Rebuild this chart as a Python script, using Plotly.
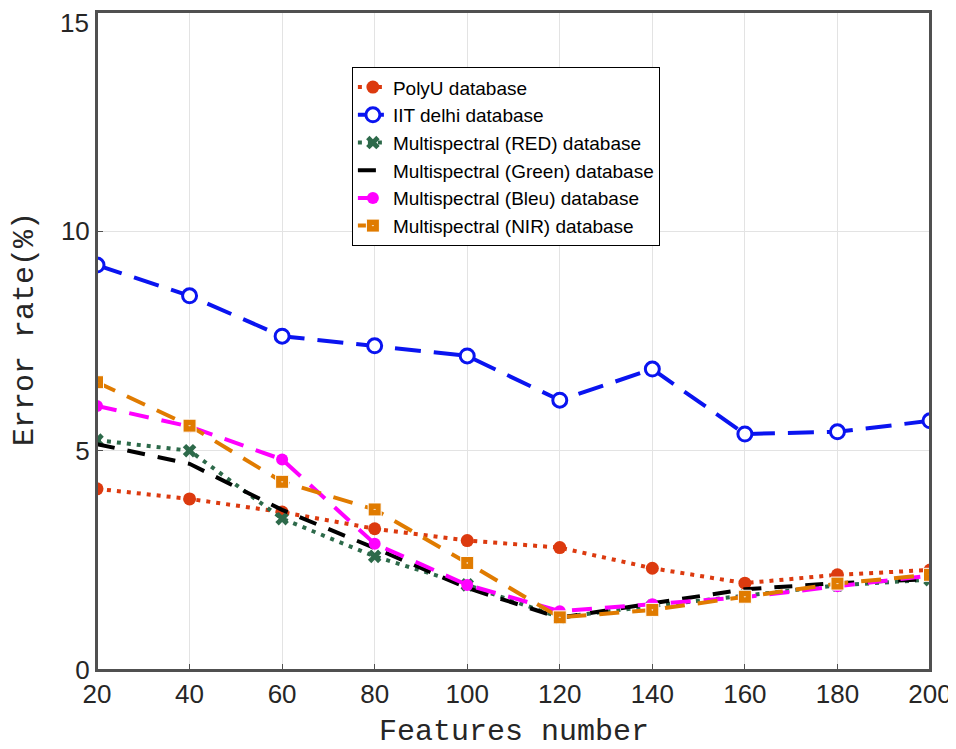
import plotly.graph_objects as go

features = [20, 40, 60, 80, 100, 120, 140, 160, 180, 200]
polyu = [4.13, 3.90, 3.60, 3.22, 2.95, 2.79, 2.32, 1.98, 2.17, 2.28]
iit = [9.23, 8.53, 7.61, 7.39, 7.16, 6.15, 6.86, 5.38, 5.43, 5.68]
ms_red = [5.24, 5.00, 3.45, 2.59, 1.94, 1.20, 1.46, 1.69, 1.93, 2.06]
ms_green = [5.15, 4.70, 3.65, 2.78, 1.87, 1.19, 1.52, 1.84, 1.98, 2.07]
ms_bleu = [6.02, 5.55, 4.80, 2.88, 1.94, 1.34, 1.50, 1.66, 1.91, 2.15]
ms_nir = [6.56, 5.57, 4.29, 3.66, 2.44, 1.20, 1.37, 1.67, 1.97, 2.17]
y_ticks = [0, 5, 10, 15]
y_ticktext = ["0", "5", "10", ""]
x_title = "Features number"
y_title = "Error rate(%)"

series = [
    dict(name="PolyU database", y=polyu, color="#DC3A0F", dash="4px,6px", width=4,
         marker=dict(symbol="circle", size=13, color="#DC3A0F")),
    dict(name="IIT delhi database", y=iit, color="#0A14F0", dash="26px,13px", width=4,
         marker=dict(symbol="circle", size=14, color="white", line=dict(color="#0A14F0", width=3))),
    dict(name="Multispectral (RED) database", y=ms_red, color="#2D6A4A", dash="4px,6px", width=4,
         marker=dict(symbol="x", size=12, color="#2D6A4A")),
    dict(name="Multispectral (Green) database", y=ms_green, color="#000000", dash="18px,13px", width=4,
         marker=None),
    dict(name="Multispectral (Bleu) database", y=ms_bleu, color="#FF00FF", dash="20px,13px", width=4,
         marker=dict(symbol="circle", size=12, color="#FF00FF")),
    dict(name="Multispectral (NIR) database", y=ms_nir, color="#E07B00", dash="20px,13px", width=4,
         marker=dict(symbol="square-dot", size=13, color="#E07B00", line=dict(color="white", width=1))),
]

fig = go.Figure()
for i, s in enumerate(series):
    kw = dict(x=features, y=s["y"], name=s["name"], legendgroup=f"g{i}",
              line=dict(color=s["color"], dash=s["dash"], width=s["width"]))
    if s["marker"] is None:
        kw["mode"] = "lines"
    else:
        kw["mode"] = "lines+markers"
        kw["marker"] = s["marker"]
    fig.add_trace(go.Scatter(**kw))

tick_font = dict(family="Liberation Sans, Arial", size=26, color="#262626")
title_font = dict(family="Liberation Mono, Courier New", size=30, color="#262626")

axis_common = dict(
    showline=True, linecolor="#505050", linewidth=2, mirror=True,
    showgrid=True, gridcolor="#E3E3E3", gridwidth=1,
    ticks="inside", ticklen=6, tickcolor="#505050",
    tickfont=tick_font,
    zeroline=False, automargin=False, ticklabeloverflow="allow",
)

fig.update_layout(
    width=948, height=741,
    margin=dict(l=89, r=26, t=4, b=79),
    plot_bgcolor="white", paper_bgcolor="white",
    xaxis=dict(range=[20, 200], tickvals=features, **axis_common),
    yaxis=dict(range=[0, 15], tickvals=y_ticks, ticktext=y_ticktext, **axis_common),
    legend=dict(x=0.306, y=0.916, xanchor="left", yanchor="top",
                bordercolor="#000000", borderwidth=1, bgcolor="white",
                font=dict(family="Liberation Sans, Arial", size=19, color="#000000"),
                tracegroupgap=0, itemwidth=30),
    shapes=[dict(type="rect", xref="paper", yref="paper", x0=0, x1=1, y0=0, y1=1,
                 line=dict(color="#505050", width=2), layer="above")],
    annotations=[
        dict(text=str(y_ticks[-1]), xref="paper", yref="paper", x=0, y=1,
             xanchor="right", yanchor="top", xshift=-7, yshift=5, showarrow=False,
             font=tick_font, borderpad=0),
        dict(text=x_title, xref="paper", yref="paper", x=0.5, y=0,
             xanchor="center", yanchor="top", yshift=-44, showarrow=False,
             font=title_font, borderpad=0),
        dict(text=y_title, xref="paper", yref="paper", x=0, y=0.5,
             xanchor="center", yanchor="middle", xshift=-72, yshift=12, textangle=-90,
             showarrow=False, font=title_font, borderpad=0),
    ],
    showlegend=True,
)

fig.write_html("out.html")
